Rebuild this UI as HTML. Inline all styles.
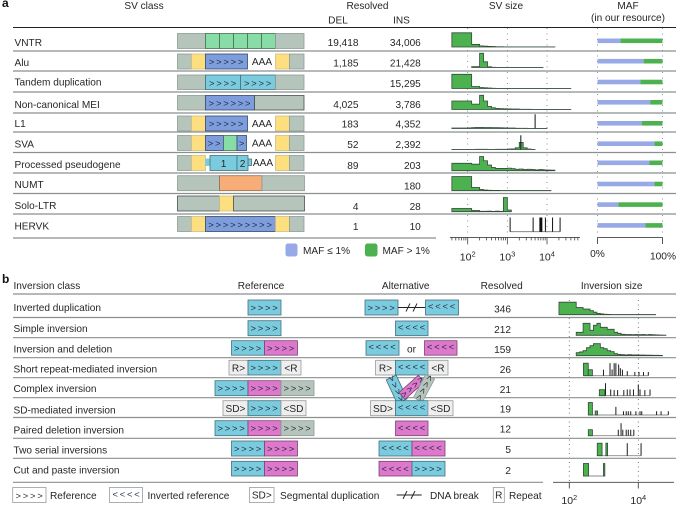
<!DOCTYPE html>
<html lang="en">
<head>
<meta charset="utf-8">
<title>SV and inversion classes</title>
<style>
html,body{margin:0;padding:0;background:#fff;width:676px;height:505px;overflow:hidden}
svg{display:block}
text{font-family:"Liberation Sans",sans-serif;font-size:10.1px;fill:#262626}
.bold{font-weight:700;font-size:12px;fill:#111}
.end{text-anchor:end}
.mid{text-anchor:middle}
.ar{font-size:9.4px;letter-spacing:1.8px;text-anchor:middle;fill:#1f2c3c}
.sep{stroke:#8b8f8f;stroke-width:1.2}
.top{stroke:#222;stroke-width:1}
rect{stroke-width:.8}
.g{fill:#b5c5bc;stroke:#8e9b94}
.gd{fill:#b5c5bc;stroke:#47524d}
.y{fill:#fddf7f;stroke:#cfc07f}
.b{fill:#7d9ddd;stroke:#33486c}
.c{fill:#7bcbde;stroke:#41707e}
.m{fill:#dd78cc;stroke:#7b4272}
.v{fill:#88dca5;stroke:#44705a}
.o{fill:#f6ad78;stroke:#8b6c52}
.w{fill:#eee;stroke:#9a9a9a}
.l{fill:#fff;stroke:#9a9a9a}
</style>
</head>
<body>
<svg id="figure" width="676" height="505" viewBox="0 0 676 505" xmlns="http://www.w3.org/2000/svg">
<g id="grid-layer"></g>

<text class="bold" x="2" y="7">a</text>
<text class="mid" x="144" y="9">SV class</text>
<text class="mid" x="367.5" y="9">Resolved</text>
<text class="mid" x="338" y="23.500">DEL</text>
<text class="mid" x="401.5" y="23.500">INS</text>
<text class="mid" x="506" y="9">SV size</text>
<text class="mid" x="628" y="9">MAF</text>
<text class="mid" x="628" y="21">(in our resource)</text>

<g>
<line class="top" x1="13" x2="676" y1="27.500" y2="27.500"/>
<line class="sep" x1="13" x2="676" y1="51" y2="51"/>
<line class="sep" x1="13" x2="676" y1="71" y2="71"/>
<line class="sep" x1="13" x2="676" y1="92" y2="92"/>
<line class="sep" x1="13" x2="676" y1="113" y2="113"/>
<line class="sep" x1="13" x2="676" y1="132" y2="132"/>
<line class="sep" x1="13" x2="676" y1="152.500" y2="152.500"/>
<line class="sep" x1="13" x2="676" y1="173" y2="173"/>
<line class="sep" x1="13" x2="676" y1="193.500" y2="193.500"/>
<line class="sep" x1="13" x2="676" y1="214" y2="214"/>
<line class="sep" x1="13" x2="436" y1="238" y2="238"/>
</g>

<g>
<text x="14.500" y="45.800">VNTR</text>
<text x="14.500" y="65.800">Alu</text>
<text x="14.500" y="85.500">Tandem duplication</text>
<text x="14.500" y="108.200">Non-canonical MEI</text>
<text x="14.500" y="127.200">L1</text>
<text x="14.500" y="147.500">SVA</text>
<text x="14.500" y="168.200">Processed pseudogene</text>
<text x="14.500" y="188.200">NUMT</text>
<text x="14.500" y="209.200">Solo-LTR</text>
<text x="14.500" y="229.500">HERVK</text>
</g>

<g>
<text class="end" x="358.500" y="46.200">19,418</text>
<text class="end" x="358.500" y="66.500">1,185</text>
<text class="end" x="358.500" y="108.200">4,025</text>
<text class="end" x="358.500" y="127.500">183</text>
<text class="end" x="358.500" y="148">52</text>
<text class="end" x="358.500" y="169.200">89</text>
<text class="end" x="358.500" y="209.800">4</text>
<text class="end" x="358.500" y="230.200">1</text>
</g>
<g>
<text class="end" x="420.800" y="46.200">34,006</text>
<text class="end" x="420.800" y="66.500">21,428</text>
<text class="end" x="420.800" y="87">15,295</text>
<text class="end" x="420.800" y="108.200">3,786</text>
<text class="end" x="420.800" y="127.500">4,352</text>
<text class="end" x="420.800" y="148">2,392</text>
<text class="end" x="420.800" y="169.200">203</text>
<text class="end" x="420.800" y="189.500">180</text>
<text class="end" x="420.800" y="209.800">28</text>
<text class="end" x="420.800" y="230.200">10</text>
</g>

<!-- SV class diagrams -->
<g>
<rect class="g" x="177.500" y="33.500" width="28" height="15"/>
<rect class="v" x="205.500" y="33.500" width="14" height="15"/>
<rect class="v" x="219.500" y="33.500" width="14" height="15"/>
<rect class="v" x="233.500" y="33.500" width="14" height="15"/>
<rect class="v" x="247.500" y="33.500" width="14" height="15"/>
<rect class="v" x="261.500" y="33.500" width="14" height="15"/>
<rect class="g" x="275.500" y="33.500" width="28.500" height="15"/>
</g>
<g>
<rect class="g" x="177.500" y="54" width="14" height="15"/>
<rect class="y" x="191.500" y="54" width="14" height="15"/>
<rect class="b" x="205.500" y="54" width="42" height="15"/>
<text class="ar" x="227" y="65">&gt;&gt;&gt;&gt;&gt;</text>
<text class="mid" x="262" y="65">AAA</text>
<rect class="y" x="275.500" y="54" width="14" height="15"/>
<rect class="g" x="289.500" y="54" width="14.500" height="15"/>
</g>
<g>
<rect class="g" x="177.500" y="75" width="28" height="14.500"/>
<rect class="c" x="205.500" y="75" width="35" height="14.500"/>
<rect class="c" x="240.500" y="75" width="35" height="14.500"/>
<rect class="g" x="275.500" y="75" width="28.500" height="14.500"/>
<text class="ar" x="223.500" y="86.500">&gt;&gt;&gt;&gt;</text>
<text class="ar" x="258.500" y="86.500">&gt;&gt;&gt;&gt;</text>
</g>
<g>
<rect class="g" x="177.500" y="95.500" width="28" height="14.500"/>
<rect class="b" x="205.500" y="95.500" width="49" height="14.500"/>
<rect class="gd" x="254.500" y="95.500" width="49.500" height="14.500"/>
<text class="ar" x="230.500" y="106.500">&gt;&gt;&gt;&gt;&gt;&gt;</text>
</g>
<g>
<rect class="g" x="177.500" y="116" width="14" height="15"/>
<rect class="y" x="191.500" y="116" width="14" height="15"/>
<rect class="b" x="205.500" y="116" width="42" height="15"/>
<text class="ar" x="227" y="127">&gt;&gt;&gt;&gt;&gt;</text>
<text class="mid" x="262" y="127">AAA</text>
<rect class="y" x="275.500" y="116" width="14" height="15"/>
<rect class="g" x="289.500" y="116" width="14.500" height="15"/>
</g>
<g>
<rect class="g" x="177.500" y="135.500" width="14" height="15"/>
<rect class="y" x="191.500" y="135.500" width="14" height="15"/>
<rect class="b" x="205.500" y="135.500" width="18" height="15"/>
<rect class="v" x="223.500" y="135.500" width="13.500" height="15"/>
<rect class="b" x="237" y="135.500" width="9.500" height="15"/>
<text class="ar" x="215" y="146.500">&gt;&gt;</text>
<text class="ar" x="242.500" y="146.500">&gt;</text>
<text class="mid" x="262" y="146.500">AAA</text>
<rect class="y" x="275.500" y="135.500" width="14" height="15"/>
<rect class="g" x="289.500" y="135.500" width="14.500" height="15"/>
</g>
<g>
<rect class="g" x="177.500" y="155.500" width="14" height="15"/>
<rect class="y" x="191.500" y="155.500" width="14" height="15"/>
<rect x="205.500" y="159" width="5" height="6.500" fill="#7bcbde" stroke="#7bcbde"/>
<rect x="248" y="159" width="3.500" height="6.500" fill="#7bcbde" stroke="#41707e"/>
<rect class="c" x="210" y="155.500" width="27" height="15"/>
<rect class="c" x="237" y="155.500" width="11" height="15"/>
<text class="mid" x="223.500" y="167">1</text>
<text class="mid" x="242.500" y="167">2</text>
<text class="mid" x="263" y="166">AAA</text>
<rect class="y" x="275.500" y="155.500" width="14" height="15"/>
<rect class="g" x="289.500" y="155.500" width="14.500" height="15"/>
</g>
<g>
<rect class="g" x="177.500" y="175.700" width="42" height="15"/>
<rect class="o" x="219.500" y="175.700" width="42.500" height="15"/>
<rect class="g" x="262" y="175.700" width="42.500" height="15"/>
</g>
<g>
<rect class="gd" x="177.500" y="196" width="42" height="15"/>
<rect class="y" x="219.500" y="196" width="14" height="15"/>
<rect class="gd" x="233.500" y="196" width="71" height="15"/>
</g>
<g>
<rect class="g" x="177.500" y="216.500" width="14" height="15"/>
<rect class="y" x="191.500" y="216.500" width="14" height="15"/>
<rect class="b" x="205.500" y="216.500" width="70" height="15"/>
<text class="ar" x="241" y="228">&gt;&gt;&gt;&gt;&gt;&gt;&gt;&gt;&gt;</text>
<rect class="y" x="275.500" y="216.500" width="14" height="15"/>
<rect class="g" x="289.500" y="216.500" width="14.500" height="15"/>
</g>

<g>
<rect x="285.500" y="243.500" width="12" height="13" rx="2.500" fill="#97a9e6" stroke="none"/>
<text x="303" y="254">MAF ≤ 1%</text>
<rect x="365" y="243.500" width="12.500" height="13" rx="2.500" fill="#4cb24f" stroke="none"/>
<text x="382.500" y="254">MAF &gt; 1%</text>
</g>

<!-- Panel b -->
<text class="bold" x="2" y="283">b</text>
<text x="13.500" y="289">Inversion class</text>
<text class="mid" x="261" y="289">Reference</text>
<text class="mid" x="405.700" y="289">Alternative</text>
<text class="mid" x="501.700" y="289">Resolved</text>
<text class="mid" x="611.700" y="289">Inversion size</text>

<g>
<line class="sep" x1="13" x2="676" y1="294" y2="294"/>
<line class="sep" x1="13" x2="676" y1="317.500" y2="317.500"/>
<line class="sep" x1="13" x2="676" y1="337.700" y2="337.700"/>
<line class="sep" x1="13" x2="676" y1="357.700" y2="357.700"/>
<line class="sep" x1="13" x2="676" y1="377.700" y2="377.700"/>
<line class="sep" x1="13" x2="676" y1="397.700" y2="397.700"/>
<line class="sep" x1="13" x2="676" y1="417.500" y2="417.500"/>
<line class="sep" x1="13" x2="676" y1="438.300" y2="438.300"/>
<line class="sep" x1="13" x2="676" y1="458.300" y2="458.300"/>
<line class="sep" x1="13" x2="543" y1="482.300" y2="482.300"/>
</g>

<g>
<text x="13.500" y="311.200">Inverted duplication</text>
<text x="13.500" y="331.800">Simple inversion</text>
<text x="13.500" y="352.500">Inversion and deletion</text>
<text x="13.500" y="372.500">Short repeat-mediated inversion</text>
<text x="13.500" y="391.800">Complex inversion</text>
<text x="13.500" y="413.500">SD-mediated inversion</text>
<text x="13.500" y="433.500">Paired deletion inversion</text>
<text x="13.500" y="453.500">Two serial inversions</text>
<text x="13.500" y="473.500">Cut and paste inversion</text>
</g>

<g>
<text class="end" x="511" y="312.500">346</text>
<text class="end" x="511" y="332.800">212</text>
<text class="end" x="511" y="352.800">159</text>
<text class="end" x="511" y="373.200">26</text>
<text class="end" x="511" y="392.800">21</text>
<text class="end" x="511" y="412.500">19</text>
<text class="end" x="511" y="432.500">12</text>
<text class="end" x="511" y="452.800">5</text>
<text class="end" x="511" y="473.800">2</text>
</g>

<!-- Reference diagrams -->
<g>
<rect class="c" x="248" y="300" width="33" height="15"/>
<text class="ar" x="265" y="311">&gt;&gt;&gt;&gt;</text>
<rect class="c" x="248" y="320.700" width="33" height="15"/>
<text class="ar" x="265" y="331.700">&gt;&gt;&gt;&gt;</text>
<rect class="c" x="231.500" y="340.700" width="33" height="14.500"/>
<rect class="m" x="264.500" y="340.700" width="33" height="14.500"/>
<text class="ar" x="248.500" y="351.500">&gt;&gt;&gt;&gt;</text>
<text class="ar" x="281.500" y="351.500">&gt;&gt;&gt;&gt;</text>
<rect class="w" x="229" y="360.300" width="19" height="14.700"/>
<rect class="c" x="248" y="360.300" width="33" height="14.700"/>
<rect class="w" x="281" y="360.300" width="20" height="14.700"/>
<text class="mid" x="238.500" y="371.500">R&gt;</text>
<text class="ar" x="265" y="371">&gt;&gt;&gt;&gt;</text>
<text class="mid" x="291" y="371.500">&lt;R</text>
<rect class="c" x="215" y="380.700" width="33" height="15"/>
<rect class="m" x="248" y="380.700" width="33" height="15"/>
<rect class="g" x="281" y="380.700" width="33" height="15"/>
<text class="ar" x="232" y="391.700">&gt;&gt;&gt;&gt;</text>
<text class="ar" x="265" y="391.700">&gt;&gt;&gt;&gt;</text>
<text class="ar" x="298" y="391.700">&gt;&gt;&gt;&gt;</text>
<rect class="w" x="223" y="400.700" width="25" height="15"/>
<rect class="c" x="248" y="400.700" width="33" height="15"/>
<rect class="w" x="281" y="400.700" width="25" height="15"/>
<text class="mid" x="235.500" y="412">SD&gt;</text>
<text class="ar" x="265" y="411.700">&gt;&gt;&gt;&gt;</text>
<text class="mid" x="293.500" y="412">&lt;SD</text>
<rect class="c" x="215" y="420.700" width="33" height="15"/>
<rect class="m" x="248" y="420.700" width="33" height="15"/>
<rect class="g" x="281" y="420.700" width="33" height="15"/>
<text class="ar" x="232" y="431.700">&gt;&gt;&gt;&gt;</text>
<text class="ar" x="265" y="431.700">&gt;&gt;&gt;&gt;</text>
<text class="ar" x="298" y="431.700">&gt;&gt;&gt;&gt;</text>
<rect class="c" x="231.500" y="441" width="33" height="15"/>
<rect class="m" x="264.500" y="441" width="33" height="15"/>
<text class="ar" x="248.500" y="452">&gt;&gt;&gt;&gt;</text>
<text class="ar" x="281.500" y="452">&gt;&gt;&gt;&gt;</text>
<rect class="c" x="231.500" y="461.300" width="33" height="14.700"/>
<rect class="m" x="264.500" y="461.300" width="33" height="14.700"/>
<text class="ar" x="248.500" y="472">&gt;&gt;&gt;&gt;</text>
<text class="ar" x="281.500" y="472">&gt;&gt;&gt;&gt;</text>
</g>

<!-- Alternative diagrams -->
<g>
<rect class="c" x="365" y="300" width="33" height="15"/>
<text class="ar" x="382" y="311">&gt;&gt;&gt;&gt;</text>
<line x1="398" x2="425.500" y1="307.500" y2="307.500" stroke="#222" stroke-width=".9"/>
<line x1="406" x2="410" y1="311.500" y2="303.500" stroke="#222" stroke-width=".9"/>
<line x1="413" x2="417" y1="311.500" y2="303.500" stroke="#222" stroke-width=".9"/>
<rect class="c" x="425.500" y="300" width="33" height="15"/>
<text class="ar" x="442.500" y="309.500">&lt;&lt;&lt;&lt;</text>
<rect class="c" x="395.500" y="321" width="32.500" height="14.700"/>
<text class="ar" x="412.500" y="330.500">&lt;&lt;&lt;&lt;</text>
<rect class="c" x="366" y="340.700" width="33" height="14.500"/>
<text class="ar" x="383" y="350">&lt;&lt;&lt;&lt;</text>
<text class="mid" x="411.500" y="352.500">or</text>
<rect class="m" x="424.500" y="340.700" width="32.500" height="14.500"/>
<text class="ar" x="441.500" y="350">&lt;&lt;&lt;&lt;</text>
<rect class="w" x="375.500" y="360.300" width="20" height="14.700"/>
<rect class="c" x="395.500" y="360.300" width="32.500" height="14.700"/>
<rect class="w" x="428" y="360.300" width="20" height="14.700"/>
<text class="mid" x="385.500" y="371.500">R&gt;</text>
<text class="ar" x="412.500" y="370">&lt;&lt;&lt;&lt;</text>
<text class="mid" x="438" y="371.500">&lt;R</text>

<g transform="translate(396.700,389.300) rotate(-25)">
<rect class="c" x="-5.500" y="-13" width="11" height="26"/>
<text class="ar" transform="rotate(90)" y="3">&gt;&gt;&gt;&gt;</text>
</g>
<g transform="translate(411.700,387.300) rotate(48)">
<rect class="m" x="-4.500" y="-13" width="9" height="26"/>
<text class="ar" transform="rotate(90)" y="3">&lt;&lt;&lt;&lt;</text>
</g>
<g transform="translate(424,388.300) rotate(28)">
<rect class="g" x="-5" y="-13" width="10" height="26"/>
<text class="ar" transform="rotate(90)" y="3">&lt;&lt;&lt;&lt;</text>
</g>

<rect class="w" x="370.500" y="400.700" width="25" height="15"/>
<rect class="c" x="395.500" y="400.700" width="32.500" height="15"/>
<rect class="w" x="428" y="400.700" width="25" height="15"/>
<text class="mid" x="383" y="412">SD&gt;</text>
<text class="ar" x="412.500" y="410.500">&lt;&lt;&lt;&lt;</text>
<text class="mid" x="440.500" y="412">&lt;SD</text>
<rect class="m" x="395.500" y="421" width="32.500" height="14.700"/>
<text class="ar" x="412.500" y="431">&lt;&lt;&lt;&lt;</text>
<rect class="c" x="379" y="441" width="33" height="15"/>
<rect class="m" x="412" y="441" width="33" height="15"/>
<text class="ar" x="396" y="451">&lt;&lt;&lt;&lt;</text>
<text class="ar" x="429" y="451">&lt;&lt;&lt;&lt;</text>
<rect class="m" x="379" y="461.300" width="33" height="14.700"/>
<rect class="c" x="412" y="461.300" width="33" height="14.700"/>
<text class="ar" x="396" y="472">&lt;&lt;&lt;&lt;</text>
<text class="ar" x="429" y="472">&gt;&gt;&gt;&gt;</text>
</g>

<!-- Bottom legend -->
<g>
<rect class="l" x="12.700" y="487.500" width="33.300" height="15"/>
<text class="ar" x="30" y="499">&gt;&gt;&gt;&gt;</text>
<text x="50" y="499">Reference</text>
<rect class="l" x="109.500" y="487.500" width="33" height="15"/>
<text class="ar" x="127" y="497.500">&lt;&lt;&lt;&lt;</text>
<text x="147.500" y="499">Inverted reference</text>
<rect class="l" x="249.500" y="487.500" width="24.500" height="15"/>
<text class="mid" x="261.800" y="498.500">SD&gt;</text>
<text x="280" y="499">Segmental duplication</text>
<line x1="396.700" x2="421.700" y1="495" y2="495" stroke="#222" stroke-width=".9"/>
<line x1="403" x2="407" y1="499" y2="491" stroke="#222" stroke-width=".9"/>
<line x1="411" x2="415" y1="499" y2="491" stroke="#222" stroke-width=".9"/>
<text x="430" y="499">DNA break</text>
<rect class="l" x="493.300" y="487.500" width="11" height="15"/>
<text class="mid" x="498.800" y="498.500">R</text>
<text x="509" y="499">Repeat</text>
</g>

<g id="sv-size-chart"></g>
<g id="maf-chart"></g>
<g id="inversion-size-chart"></g>
</svg>

<script>
// ---- Panel a: SV size histograms (relative counts per 0.1 log10 bin, starting at 10^1.6) ----
const svBinStart = 1.6;
const svBinStep = 0.1;
const vntrBins = [100,100,100,100,100,18,18,8,6,4,3,2,2,1,1,1,1,1,1,1,1,1,1,1,1,1];
const aluBins = [0,0,0,0,0,6,6,100,40,5,2,1,1,1,1,1,1,1,1,1,1,1,1];
const tandemBins = [100,100,100,100,100,14,14,7,5,3,2,1,1,1,1,1,1,1,1,1,1,1,1,1,1,1,1,1,1,1];
const meiBins = [60,60,60,60,60,38,38,100,60,22,12,8,6,5,4,3,3,2,2,2,1,1,1,1,1,1,1,1,1,1];
const l1Bins = [3,3,3,3,4,6,8,8,7,7,6,6,5,4,3,3,2,2,2,1,1,1,1,1];
const svaBins = [1,1,1,1,1,1,2,2,2,1,1,2,2,2,3,4,12,50,12,3,1];
const pseudogeneBins = [52,52,52,52,52,46,46,100,70,40,22,16,16,16,18,14,10,12,8,10,8,6,8,6,5,4];
const numtBins = [100,100,100,100,100,22,22,8,5,3,2,2,1,1,1,1,1,1,1,1,1,1,1,1,1];
const soloBins = [22,22,22,22,22,8,8,3,3,4,2,4,2,100,12];
const hervkBins = [];
const svSeries = [vntrBins, aluBins, tandemBins, meiBins, l1Bins, svaBins, pseudogeneBins, numtBins, soloBins, hervkBins];
const svRowNames = ['vntr','alu','tandem-duplication','non-canonical-mei','l1','sva','processed-pseudogene','numt','solo-ltr','hervk'];
// spikes: single-size events, log10 bp and relative height
const l1SpikeSizes = [3.70];
const l1SpikeHeights = [100];
const svaSpikeSizes = [3.34];
const svaSpikeHeights = [100];
const hervkSpikeSizes = [3.07,3.65,3.82,3.83,3.84,3.85,3.86,3.87,3.96,4.14,4.33];
const hervkSpikeHeights = [100,100,100,100,100,100,100,100,100,100,100];
const svSpikeSizes = [[],[],[],[],l1SpikeSizes,svaSpikeSizes,[],[],[],hervkSpikeSizes];
const svSpikeHeights = [[],[],[],[],l1SpikeHeights,svaSpikeHeights,[],[],[],hervkSpikeHeights];

// ---- Panel a: MAF (percent of calls with MAF <= 1%) ----
const mafLowPercent = [35.5,71,66,81,68,87.5,80,87.5,32,73.7];
const svTickExponents = ['2','3','4'];
const mafTickLabels = ['0%','100%'];

// ---- Panel b: inversion size ----
const invBinStart = 1.7;
const invBinStep = 0.1;
const invertedDupBins = [100,100,100,100,100,57,57,45,45,32,20,10,6,3,2,1,1,1,1,1,1,1,1,1,1,1,1,1];
const simpleBins = [0,0,0,0,0,24,24,96,96,40,80,96,64,64,48,48,24,16,8,6,6,5,6,5,6,4,6,4,3,2,1];
const invDelBins = [0,0,0,0,0,24,30,40,64,80,96,96,64,56,40,32,16,10,8,6,8,6,6,5,5,4,4,3,3,2];
const invDenseBins = [invertedDupBins, simpleBins, invDelBins, [], [], [], [], [], []];
// sparse rows: green bars as [log10 from, log10 to, relative height]
const shortRepeatBars = [[2.41,2.55,100],[2.55,2.67,48]];
const complexBars = [[2.87,3.03,48]];
const sdBars = [[2.55,2.67,100],[2.75,2.82,32]];
const pairedBars = [[2.55,2.67,48]];
const serialBars = [[2.81,2.95,100],[3.06,3.11,100]];
const cutPasteBars = [[2.41,2.56,100],[2.99,3.03,100]];
const invSparseBars = [[],[],[],shortRepeatBars,complexBars,sdBars,pairedBars,serialBars,cutPasteBars];
const shortRepeatSpikes = [2.99,3.18,3.24,3.30,3.35,3.43,3.48,3.54,3.68,3.90,4.02,4.15,4.29];
const shortRepeatSpikeHeights = [48,100,50,100,100,90,60,48,36,30,30,30,30];
const complexSpikes = [3.05,3.20,3.30,3.40,3.58,3.68,3.76,3.86,4.00,4.05,4.19,4.34];
const complexSpikeHeights = [100,50,45,45,45,50,50,50,90,50,45,50];
const sdSpikes = [3.35,3.57,3.65,3.71,3.78,3.93,4.05,4.10,4.53,4.66,4.87];
const sdSpikeHeights = [65,30,30,30,30,30,30,30,30,30,30];
const pairedSpikes = [3.42,3.50,3.55,3.65,3.71,3.78,3.87];
const pairedSpikeHeights = [48,100,48,48,48,48,48];
const serialSpikes = [3.68,4.08];
const serialSpikeHeights = [100,100];
const invSpikeSizes = [[],[],[],shortRepeatSpikes,complexSpikes,sdSpikes,pairedSpikes,serialSpikes,[]];
const invSpikeHeights = [[],[],[],shortRepeatSpikeHeights,complexSpikeHeights,sdSpikeHeights,pairedSpikeHeights,serialSpikeHeights,[]];
const invRowNames = ['inverted-duplication','simple','inversion-and-deletion','short-repeat','complex','sd-mediated','paired-deletion','two-serial','cut-and-paste'];
const invTickExponents = ['2','4'];

// ---- Layout and axis functions ----
const NS = 'http://www.w3.org/2000/svg';
const svX = log => 467.7 + (log - 2) * 39.65;
const invX = log => 569.3 + (log - 2) * 34.5;
const mafX = pct => 597.5 + pct * 0.65;
const svHeight = v => v / 100 * 14.2;
const invHeight = v => v / 100 * 12.5;
const svBaselines = [47,67.5,88.5,109.5,128.5,149.5,170.7,190.7,211.7,231.7];
const invBaselines = [314.7,335.3,355.7,375.7,395.7,415,435.7,455.7,476];
const mafCenters = [40.8,61.2,82,102.3,123.3,143.7,162.8,184,204.6,225.4];

function lineEl(parent, x1, y1, x2, y2, stroke, width, dash) {
  const el = document.createElementNS(NS, 'line');
  el.setAttribute('x1', x1);
  el.setAttribute('y1', y1);
  el.setAttribute('x2', x2);
  el.setAttribute('y2', y2);
  el.setAttribute('stroke', stroke);
  el.setAttribute('stroke-width', width);
  if (dash) el.setAttribute('stroke-dasharray', dash);
  
  
  parent.appendChild(el);
  return el;
}

function histogram(parent, bins, start, step, xFn, hFn, base, name) {
  let first = bins.findIndex(v => v > 0);
  if (first < 0) return;
  let d = 'M' + xFn(start + first * step).toFixed(2) + ' ' + base;
  for (let i = first; i < bins.length; i++) {
    const x0 = xFn(start + i * step);
    const x1 = xFn(start + (i + 1) * step);
    const y = base - hFn(bins[i]);
    d += 'L' + x0.toFixed(2) + ' ' + y.toFixed(2) + 'L' + x1.toFixed(2) + ' ' + y.toFixed(2);
  }
  d += 'L' + xFn(start + bins.length * step).toFixed(2) + ' ' + base + 'Z';
  const el = document.createElementNS(NS, 'path');
  el.setAttribute('d', d);
  el.setAttribute('fill', '#4cb24f');
  el.setAttribute('stroke', '#34493a');
  el.setAttribute('stroke-width', '0.8');
  
  
  parent.appendChild(el);
}

function sparseBar(parent, bar, base, name) {
  const el = document.createElementNS(NS, 'rect');
  el.setAttribute('x', invX(bar[0]));
  el.setAttribute('width', invX(bar[1]) - invX(bar[0]));
  el.setAttribute('y', base - invHeight(bar[2]));
  el.setAttribute('height', invHeight(bar[2]));
  el.setAttribute('fill', '#4cb24f');
  el.setAttribute('stroke', '#34493a');
  el.setAttribute('stroke-width', '0.7');
  
  
  parent.appendChild(el);
}

function powerLabel(parent, x, y, exponent) {
  const el = document.createElementNS(NS, 'text');
  el.setAttribute('x', x);
  el.setAttribute('y', y);
  el.setAttribute('text-anchor', 'middle');
  el.style.fontSize = '10.5px';
  
  
  el.textContent = '10';
  const sup = document.createElementNS(NS, 'tspan');
  sup.setAttribute('dy', '-4');
  sup.style.fontSize = '7.5px';
  sup.textContent = exponent;
  el.appendChild(sup);
  parent.appendChild(el);
}

const grid = document.getElementById('grid-layer');
const svChart = document.getElementById('sv-size-chart');
const mafChart = document.getElementById('maf-chart');
const invChart = document.getElementById('inversion-size-chart');

// Panel a guides, ticks
svTickExponents.forEach(e => {
  lineEl(grid, svX(+e), 28, svX(+e), 237, '#777', 0.8, '1 4.5');
});
[0, 100].forEach(p => {
  lineEl(grid, mafX(p), 28, mafX(p), 237, '#777', 0.8, '1 4.5');
});
lineEl(svChart, 450, 237.4, 580, 237.4, '#444', 0.9);
for (let d = 1; d <= 4; d++) {
  for (let m = 1; m <= 9; m++) {
    const lg = d + Math.log10(m);
    if (lg < 1.6 || lg > 4.8) continue;
    const major = m === 1;
    lineEl(svChart, svX(lg), 237.4, svX(lg), 237.4 + (major ? 7 : 3), '#444', 0.8);
  }
}
svTickExponents.forEach(e => {
  powerLabel(svChart, svX(+e), 260.5, e);
});

// Panel a series
svSeries.forEach((bins, i) => {
  const base = svBaselines[i];
  const spikes = svSpikeSizes[i];
  const heights = svSpikeHeights[i];
  if (bins.length === 0 && spikes.length) {
    lineEl(svChart, svX(spikes[0]), base, svX(spikes[spikes.length - 1]), base, '#777', 0.9);
  }
  histogram(svChart, bins, svBinStart, svBinStep, svX, svHeight, base, svRowNames[i]);
  spikes.forEach((s, j) => {
    lineEl(svChart, svX(s), base, svX(s), base - svHeight(heights[j]), '#111', 1);
  });
});

// MAF bars
mafLowPercent.forEach((pct, i) => {
  const low = document.createElementNS(NS, 'rect');
  low.setAttribute('x', mafX(0));
  low.setAttribute('y', mafCenters[i] - 2.3);
  low.setAttribute('width', mafX(pct) - mafX(0));
  low.setAttribute('height', 4.6);
  low.setAttribute('fill', '#97a9e6');
  low.setAttribute('stroke', 'none');
  
  
  mafChart.appendChild(low);
  const high = document.createElementNS(NS, 'rect');
  high.setAttribute('x', mafX(pct));
  high.setAttribute('y', mafCenters[i] - 2.3);
  high.setAttribute('width', mafX(100) - mafX(pct));
  high.setAttribute('height', 4.6);
  high.setAttribute('fill', '#4cb24f');
  high.setAttribute('stroke', 'none');
  
  
  mafChart.appendChild(high);
});
lineEl(mafChart, mafX(0), 237.4, mafX(100), 237.4, '#444', 0.9);
[0, 100].forEach(p => {
  lineEl(mafChart, mafX(p), 237.4, mafX(p), 244, '#444', 0.9);
});
mafTickLabels.forEach((label, i) => {
  const el = document.createElementNS(NS, 'text');
  el.setAttribute('x', i === 0 ? mafX(0) : mafX(100) + 0.5);
  el.setAttribute('y', i === 0 ? 257 : 259.5);
  el.setAttribute('text-anchor', 'middle');
  el.style.fontSize = '10.2px';
  
  
  el.textContent = label;
  mafChart.appendChild(el);
});

// Panel b guides and axis
invTickExponents.forEach(e => {
  lineEl(grid, invX(+e), 300, invX(+e), 482, '#555', 0.8, '1 3.5');
  lineEl(invChart, invX(+e), 482.3, invX(+e), 488.5, '#444', 0.9);
  powerLabel(invChart, invX(+e), 504, e);
});
lineEl(invChart, 553, 482.3, 674, 482.3, '#444', 0.9);

// Panel b series
invBaselines.forEach((base, i) => {
  const bars = invSparseBars[i];
  const spikes = invSpikeSizes[i];
  const heights = invSpikeHeights[i];
  if (bars.length) {
    const from = bars[0][0];
    const to = Math.max(bars[bars.length - 1][1], spikes.length ? spikes[spikes.length - 1] : 0);
    lineEl(invChart, invX(from), base, invX(to), base, '#888', 0.9);
  }
  histogram(invChart, invDenseBins[i], invBinStart, invBinStep, invX, invHeight, base, invRowNames[i]);
  bars.forEach(b => sparseBar(invChart, b, base, invRowNames[i]));
  spikes.forEach((s, j) => {
    lineEl(invChart, invX(s), base, invX(s), base - invHeight(heights[j]), '#1d1d1d', 1);
  });
});
</script>
</body>
</html>
